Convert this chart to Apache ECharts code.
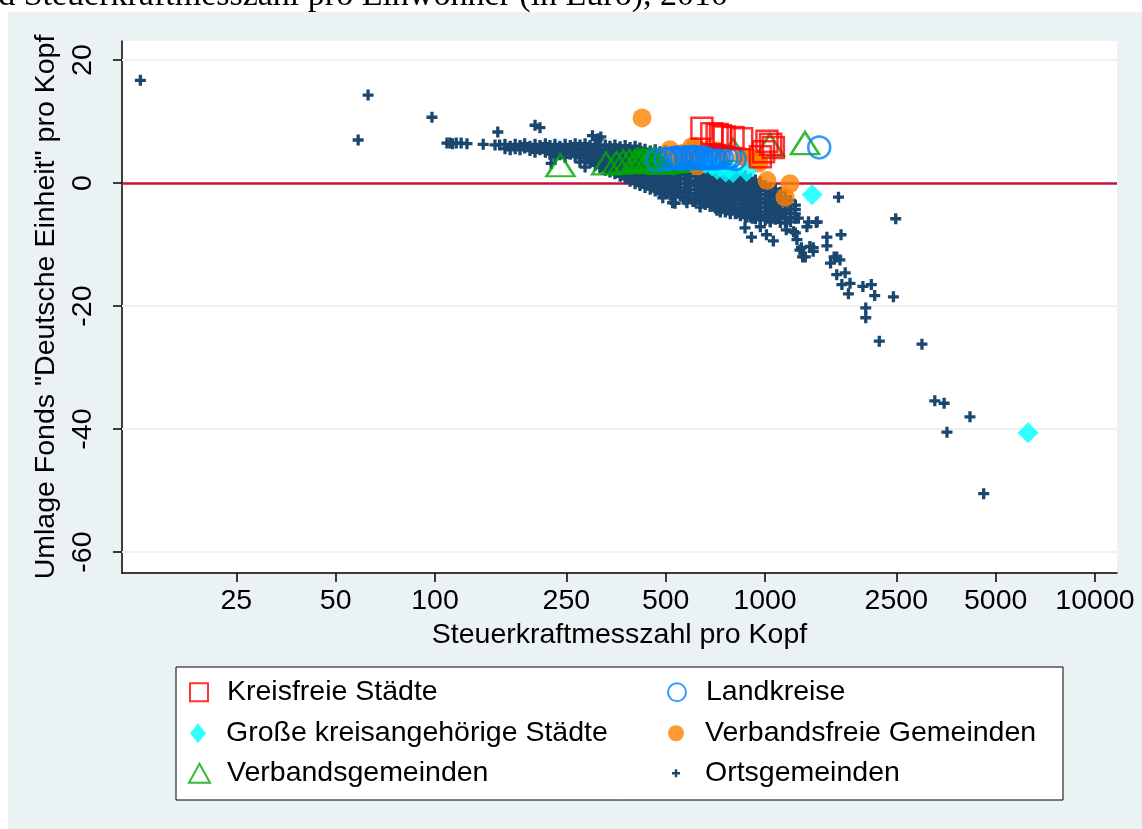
<!DOCTYPE html>
<html>
<head>
<meta charset="utf-8">
<script src="https://cdn.jsdelivr.net/npm/echarts@6/dist/echarts.min.js"></script>
<style>
  html, body { margin: 0; padding: 0; background: #ffffff; }
  #panel { position: absolute; left: 8px; top: 12px; width: 1134px; height: 817px; background: #eaf2f3; }
  #chart { position: absolute; left: 0; top: 0; width: 1142px; height: 829px; }
</style>
</head>
<body>
<div id="panel"></div>
<div id="chart"></div>
<script>
// Axis ticks
const xTicks = [25, 50, 100, 250, 500, 1000, 2500, 5000, 10000];
const yTicks = [-60, -40, -20, 0, 20];
const yGridLines = [20, -20, -40, -60];

// [Steuerkraftmesszahl pro Kopf, Umlage Fonds "Deutsche Einheit" pro Kopf]
const kreisfreieStaedte = [
  [644, 8.9], [690, 8.0], [716, 7.9], [733, 7.7], [752, 7.5], [800, 7.4],
  [850, 7.2], [968, 4.3], [990, 5.1], [1014, 6.8], [1040, 6.3], [1060, 5.8]
];
const landkreise = [
  [470, 3.7], [500, 3.9], [520, 4.0], [535, 4.1], [550, 4.1], [560, 4.0],
  [575, 4.2], [585, 4.1], [595, 4.0], [605, 4.3], [615, 4.1], [625, 4.2],
  [640, 4.0], [650, 4.1], [665, 4.2], [680, 4.0], [695, 4.1], [710, 4.0],
  [725, 4.3], [740, 4.2], [765, 4.1], [785, 4.2], [810, 3.9], [1460, 5.8]
];
const grosseKreisangehoerigeStaedte = [
  [660, 3.2], [690, 2.8], [716, 2.2], [760, 1.8], [800, 1.7], [880, 1.9],
  [1390, -1.9], [6270, -40.6]
];
const verbandsfreieGemeinden = [
  [424, 10.6], [515, 5.4], [540, 4.4], [560, 4.8], [600, 5.9], [615, 6.0],
  [625, 2.8], [640, 4.5], [660, 4.6], [680, 5.5], [700, 5.0], [720, 5.2],
  [740, 4.8], [860, 4.3], [872, 4.2], [930, 4.0], [952, 3.7], [960, 3.3],
  [1014, 0.4], [1190, -0.1], [1150, -2.3]
];
const verbandsgemeinden = [
  [240, 2.9], [330, 3.2], [355, 3.3], [372, 3.5], [388, 3.6], [404, 3.6],
  [412, 3.8], [420, 3.6], [430, 3.9], [438, 3.4], [446, 3.8], [455, 3.6],
  [462, 4.0], [470, 3.5], [478, 3.8], [487, 3.3], [495, 3.7], [505, 3.9],
  [515, 3.5], [525, 3.8], [538, 3.6], [550, 4.0], [565, 3.7], [580, 3.9],
  [600, 4.1], [625, 3.8], [650, 4.2], [680, 4.4], [710, 4.6], [800, 5.4],
  [1035, 6.2], [1322, 6.5]
];
// Ortsgemeinden: isolated municipalities
const ortsgemeindenEinzeln = [
  [12.8, 16.7], [58.5, 7.0], [62.7, 14.3], [97.9, 10.7],
  [108.7, 6.5], [111, 6.5], [113, 6.4], [116, 6.5], [120, 6.5], [125, 6.4],
  [140, 6.3], [152, 6.2], [155, 8.3], [201, 9.4], [208, 9.0], [225, 3.2],
  [285, 2.6], [300, 7.7], [312, 7.2], [318, 7.5],
  [490, -2.4], [502, -1.7], [505, -1.6], [525, -3.2], [534, -3.3], [580, -3.2],
  [605, -3.0], [636, -3.9], [715, -4.4], [732, -4.7], [820, -4.9], [880, -5.5],
  [915, -5.7], [968, -7.1], [1038, -6.3], [1160, -6.5],
  [870, -7.3], [910, -8.8], [1010, -8.4], [1060, -9.4], [1137, -4.9], [1220, -7.9],
  [1160, -7.6], [1236, -8.1], [1250, -9.2], [1262, -5.7], [1276, -10.9], [1290, -10.5],
  [1300, -12.0], [1325, -12.0], [1340, -7.1], [1355, -6.3], [1368, -10.3], [1400, -10.5],
  [1400, -11.1], [1430, -6.4], [1440, -6.3],
  [1540, -8.8], [1540, -10.2], [1580, -13.0], [1620, -12.0], [1650, -12.0], [1670, -2.3],
  [1687, -12.5], [1650, -14.9], [1700, -8.4], [1710, -16.5], [1750, -14.6], [1790, -18.0],
  [1810, -16.3], [1980, -16.8], [2020, -20.3], [2020, -21.9], [2100, -16.5], [2150, -18.3],
  [2220, -25.7], [2450, -18.5], [2490, -5.8], [2990, -26.2],
  [3270, -35.4], [3490, -35.8], [3560, -40.5], [4180, -38.0], [4600, -50.5]
];
// Ortsgemeinden: the dense band, one Steuerkraftmesszahl with its Umlage values
const ortsgemeindenDicht = [
  [157, [6.2]],
  [163, [6.3, 5.6]],
  [169, [6.0, 5.4]],
  [175, [6.3, 5.6]],
  [181, [6.1, 5.4]],
  [187, [6.4, 5.7]],
  [194, [6.0, 5.3]],
  [201, [6.3, 5.6, 5.0]],
  [208, [6.1, 5.4]],
  [216, [6.4, 5.7, 5.0]],
  [223, [6.1, 5.4, 4.7]],
  [231, [6.3, 5.6, 4.9, 4.3]],
  [239, [6.0, 5.3, 4.6]],
  [248, [6.3, 5.6, 4.9, 4.2]],
  [257, [6.1, 5.4, 4.7]],
  [266, [6.4, 5.7, 5.0, 4.3]],
  [275, [6.2, 5.5, 4.8, 4.1, 3.4]],
  [285, [6.4, 5.7, 5.0, 4.3, 3.6]],
  [295, [6.1, 5.4, 4.7, 4.0, 3.3]],
  [306, [6.3, 5.6, 4.9, 4.2, 3.5, 2.9]],
  [316, [6.0, 5.3, 4.6, 3.9, 3.2, 2.5]],
  [328, [6.2, 5.5, 4.8, 4.1, 3.4, 2.7, 2.1]],
  [339, [6.0, 5.3, 4.6, 3.9, 3.2, 2.5, 1.8]],
  [351, [6.2, 5.5, 4.8, 4.1, 3.4, 2.7, 2.0, 1.5]],
  [364, [5.9, 5.2, 4.5, 3.8, 3.1, 2.4, 1.7, 1.1]],
  [377, [6.1, 5.4, 4.7, 4.0, 3.3, 2.6, 1.9, 1.2, 0.7]],
  [390, [5.8, 5.1, 4.4, 3.7, 3.0, 2.3, 1.6, 0.9, 0.3]],
  [404, [6.0, 5.3, 4.6, 3.9, 3.2, 2.5, 1.8, 1.1, 0.4, -0.1]],
  [418, [5.7, 5.0, 4.3, 3.6, 2.9, 2.2, 1.5, 0.8, 0.1, -0.4]],
  [433, [5.5, 4.8, 4.1, 3.4, 2.7, 2.0, 1.3, 0.6, -0.1, -0.7]],
  [449, [5.2, 4.5, 3.8, 3.1, 2.4, 1.7, 1.0, 0.3, -0.4, -1.0]],
  [465, [5.4, 4.7, 4.0, 3.3, 2.6, 1.9, 1.2, 0.5, -0.2, -0.9, -1.3]],
  [481, [5.1, 4.4, 3.7, 3.0, 2.3, 1.6, 0.9, 0.2, -0.5, -1.2, -1.7]],
  [498, [5.3, 4.6, 3.9, 3.2, 2.5, 1.8, 1.1, 0.4, -0.3, -1.0, -1.6]],
  [516, [5.0, 4.3, 3.6, 2.9, 2.2, 1.5, 0.8, 0.1, -0.6, -1.3, -2.0]],
  [534, [5.2, 4.5, 3.8, 3.1, 2.4, 1.7, 1.0, 0.3, -0.4, -1.1, -1.8, -2.3]],
  [553, [4.9, 4.2, 3.5, 2.8, 2.1, 1.4, 0.7, 0.0, -0.7, -1.4, -2.1]],
  [573, [4.8, 4.1, 3.4, 2.7, 2.0, 1.3, 0.6, -0.1, -0.8, -1.5, -2.2, -2.7]],
  [593, [4.5, 3.8, 3.1, 2.4, 1.7, 1.0, 0.3, -0.4, -1.1, -1.8, -2.5]],
  [615, [4.6, 3.9, 3.2, 2.5, 1.8, 1.1, 0.4, -0.3, -1.0, -1.7, -2.4, -3.0]],
  [636, [4.3, 3.6, 2.9, 2.2, 1.5, 0.8, 0.1, -0.6, -1.3, -2.0, -2.7, -3.3]],
  [659, [4.1, 3.4, 2.7, 2.0, 1.3, 0.6, -0.1, -0.8, -1.5, -2.2, -2.9, -3.5]],
  [682, [3.8, 3.1, 2.4, 1.7, 1.0, 0.3, -0.4, -1.1, -1.8, -2.5, -3.2, -3.8]],
  [707, [3.5, 2.8, 2.1, 1.4, 0.7, 0.0, -0.7, -1.4, -2.1, -2.8, -3.5, -4.0]],
  [732, [3.2, 2.5, 1.8, 1.1, 0.4, -0.3, -1.0, -1.7, -2.4, -3.1, -3.8, -4.4]],
  [758, [2.8, 2.1, 1.4, 0.7, 0.0, -0.7, -1.4, -2.1, -2.8, -3.5, -4.2, -4.7]],
  [785, [2.4, 1.7, 1.0, 0.3, -0.4, -1.1, -1.8, -2.5, -3.2, -3.9, -4.6, -5.0]],
  [813, [2.0, 1.3, 0.6, -0.1, -0.8, -1.5, -2.2, -2.9, -3.6, -4.3, -5.0]],
  [842, [1.5, 0.8, 0.1, -0.6, -1.3, -2.0, -2.7, -3.4, -4.1, -4.8, -5.3]],
  [872, [1.2, 0.5, -0.2, -0.9, -1.6, -2.3, -3.0, -3.7, -4.4, -5.1, -5.6]],
  [902, [0.8, 0.1, -0.6, -1.3, -2.0, -2.7, -3.4, -4.1, -4.8, -5.5]],
  [935, [0.5, -0.2, -0.9, -1.6, -2.3, -3.0, -3.7, -4.4, -5.1, -5.8]],
  [968, [0.2, -0.5, -1.2, -1.9, -2.6, -3.3, -4.0, -4.7, -5.4, -6.0]],
  [1002, [-0.4, -1.1, -1.8, -2.5, -3.2, -3.9, -4.6, -5.3, -6.0]],
  [1038, [-0.8, -1.5, -2.2, -2.9, -3.6, -4.3, -5.0, -5.7, -6.3]],
  [1075, [-1.0, -1.7, -2.4, -3.1, -3.8, -4.5, -5.2, -5.9]],
  [1113, [-1.5, -2.2, -2.9, -3.6, -4.3, -5.0, -5.7, -6.4]],
  [1153, [-2.2, -2.9, -3.6, -4.3, -5.0, -5.7, -6.4]],
  [1194, [-2.8, -3.5, -4.2, -4.9, -5.6, -6.3]],
  [1236, [-3.6, -4.3, -5.0, -5.7]]
];

const ortsgemeinden = ortsgemeindenEinzeln.concat(
  ortsgemeindenDicht.flatMap(([x, ys]) => ys.map(y => [x, y]))
);

const FONT = '"Liberation Sans", Arial, Helvetica, sans-serif';
const FS = 28.5;
const PLUS = 'path://M3.5,0H6.5V3.5H10V6.5H6.5V10H3.5V6.5H0V3.5H3.5Z';

const C = {
  red: '#ff0000', cyan: '#00ffff', green: '#00a800', blue: '#0080ff',
  orange: '#ff8000', navy: '#1a476f', zero: '#c8103c', grid: '#eaf2f3'
};

function legendItem(name, icon, itemStyle, w, h, iconLeft, centerY, textStart) {
  return {
    show: true, orient: 'vertical', selectedMode: false, padding: 0,
    left: iconLeft, top: centerY - FS / 2,
    itemWidth: w, itemHeight: h,
    data: [{ name: name, icon: icon, itemStyle: itemStyle }],
    textStyle: { fontSize: FS, color: '#000', fontFamily: FONT,
      padding: [0, 0, 0, textStart - (iconLeft + w + 5)] }
  };
}

const chart = echarts.init(document.getElementById('chart'), null, { renderer: 'canvas' });

chart.setOption({
  animation: false,
  backgroundColor: 'transparent',
  grid: {
    left: 122, top: 41, right: 25, bottom: 256,
    show: true, backgroundColor: '#ffffff', borderWidth: 0,
    containLabel: false, outerBoundsMode: 'none'
  },
  xAxis: {
    type: 'log', logBase: 10, min: 11.26, max: 11660,
    name: 'Steuerkraftmesszahl pro Kopf', nameLocation: 'middle', nameGap: 45,
    nameTextStyle: { fontSize: FS, color: '#000', fontFamily: FONT },
    axisLine: { show: true, onZero: false, lineStyle: { color: '#000', width: 1.5 } },
    axisTick: { show: true, customValues: xTicks, length: 9, lineStyle: { color: '#000', width: 1.5 } },
    axisLabel: {
      show: true, customValues: xTicks, fontSize: FS, color: '#000', fontFamily: FONT, margin: 14,
      formatter: v => String(Math.round(v))
    },
    splitLine: { show: false },
    minorTick: { show: false }
  },
  yAxis: {
    type: 'value', min: -63.4, max: 23.1,
    name: 'Umlage Fonds "Deutsche Einheit" pro Kopf', nameLocation: 'middle', nameGap: 61,
    nameRotate: 90,
    nameTextStyle: { fontSize: FS, color: '#000', fontFamily: FONT },
    axisLine: { show: true, onZero: false, lineStyle: { color: '#000', width: 1.5 } },
    axisTick: { show: true, customValues: yTicks, length: 9, lineStyle: { color: '#000', width: 1.5 } },
    axisLabel: {
      show: true, customValues: yTicks, rotate: 90, fontSize: FS, color: '#000', fontFamily: FONT, margin: 24,
      formatter: v => String(Math.round(v))
    },
    splitLine: { show: false }
  },
  legend: [
    legendItem('Kreisfreie Städte', 'rect',
      { color: 'rgba(0,0,0,0)', borderColor: C.red, borderWidth: 2 }, 18, 18, 189, 692, 226),
    legendItem('Große kreisangehörige Städte', 'diamond',
      { color: C.cyan, borderWidth: 0 }, 16, 20, 190, 733, 226),
    legendItem('Verbandsgemeinden', 'triangle',
      { color: 'rgba(0,0,0,0)', borderColor: C.green, borderWidth: 2 }, 21, 19, 188, 773, 226),
    legendItem('Landkreise', 'circle',
      { color: 'rgba(0,0,0,0)', borderColor: C.blue, borderWidth: 2 }, 18, 18, 667, 692, 705),
    legendItem('Verbandsfreie Gemeinden', 'circle',
      { color: C.orange, borderWidth: 0 }, 16, 16, 668, 733, 705),
    legendItem('Ortsgemeinden', PLUS,
      { color: C.navy, borderWidth: 0 }, 8, 8, 672, 773, 705)
  ],
  graphic: [
    {
      type: 'rect', z: 1, silent: true,
      shape: { x: 176, y: 667, width: 887, height: 133 },
      style: { fill: '#ffffff', stroke: '#000000', lineWidth: 1 }
    },
    {
      type: 'text', z: 1, silent: true,
      style: {
        x: 728, y: 13, text: 'und Steuerkraftmesszahl pro Einwohner (in Euro), 2010',
        textAlign: 'right', textVerticalAlign: 'bottom',
        font: '34px "Liberation Serif", "DejaVu Serif", serif', fill: '#000'
      }
    }
  ],
  series: [
    {
      // reference lines: light grid at the y ticks and the zero line
      type: 'scatter', name: '_ref', data: [], z: 1, silent: true,
      markLine: {
        z: 1, silent: true, symbol: ['none', 'none'], animation: false,
        label: { show: false },
        data: yGridLines.map(v => ({ yAxis: v, lineStyle: { color: C.grid, width: 2, type: 'solid' } }))
          .concat([{ yAxis: 0, lineStyle: { color: C.zero, width: 2.5, type: 'solid' } }])
      }
    },
    {
      name: 'Ortsgemeinden', type: 'scatter', z: 2, data: ortsgemeinden,
      symbol: PLUS, symbolSize: 11,
      itemStyle: { color: C.navy, opacity: 1 },
      emphasis: { disabled: true }
    },
    {
      name: 'Verbandsgemeinden', type: 'scatter', z: 3, data: verbandsgemeinden,
      symbol: 'triangle', symbolSize: [28, 22],
      itemStyle: { color: 'rgba(0,0,0,0)', borderColor: C.green, borderWidth: 2.5 },
      emphasis: { disabled: true }
    },
    {
      name: 'Verbandsfreie Gemeinden', type: 'scatter', z: 4, data: verbandsfreieGemeinden,
      symbol: 'circle', symbolSize: 19,
      itemStyle: { color: C.orange, borderWidth: 0 },
      emphasis: { disabled: true }
    },
    {
      name: 'Große kreisangehörige Städte', type: 'scatter', z: 5, data: grosseKreisangehoerigeStaedte,
      symbol: 'diamond', symbolSize: [21, 21],
      itemStyle: { color: C.cyan, borderWidth: 0 },
      emphasis: { disabled: true }
    },
    {
      name: 'Landkreise', type: 'scatter', z: 6, data: landkreise,
      symbol: 'circle', symbolSize: 22,
      itemStyle: { color: 'rgba(0,0,0,0)', borderColor: C.blue, borderWidth: 2.5 },
      emphasis: { disabled: true }
    },
    {
      name: 'Kreisfreie Städte', type: 'scatter', z: 7, data: kreisfreieStaedte,
      symbol: 'rect', symbolSize: 21,
      itemStyle: { color: 'rgba(0,0,0,0)', borderColor: C.red, borderWidth: 2.5 },
      emphasis: { disabled: true }
    }
  ]
});
</script>
</body>
</html>
